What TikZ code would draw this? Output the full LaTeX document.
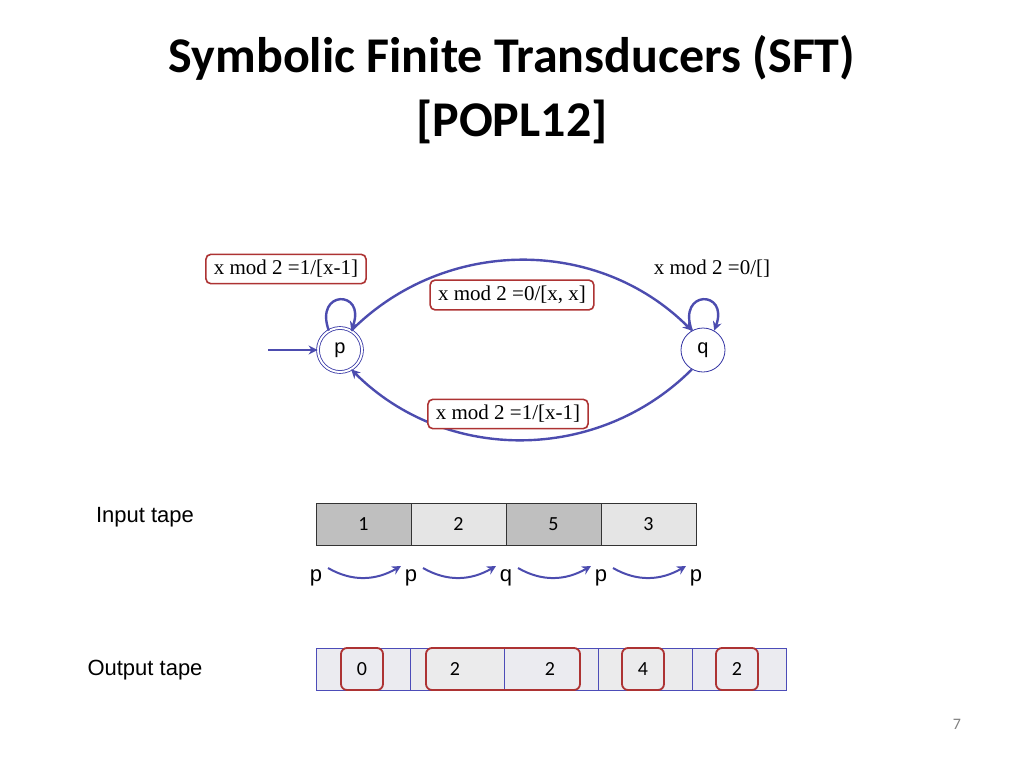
\documentclass[tikz,border=0pt]{standalone}
\usepackage{fontspec}
\setmainfont{Liberation Serif}
\newfontfamily\titlefont{Carlito}
\newfontfamily\labelfont{Liberation Sans}
\usetikzlibrary{positioning, arrows.meta}

\begin{document}
\begin{tikzpicture}[x=1pt, y=-1pt,
        state/.style={circle, draw=blue!55!black!80, thick, fill=white, minimum size=44pt, inner sep=0pt, font=\labelfont\fontsize{20}{22}\selectfont},
        guard/.style={rectangle, draw=red!60!black!80, line width=1.6pt, rounded corners=5pt, fill=white, font=\fontsize{21}{24}\selectfont, inner xsep=8pt, inner ysep=6pt},
        arrow/.style={-{Stealth[length=9pt, width=9pt]}, line width=2.4pt, draw=blue!55!black!70},
        cell/.style={rectangle, draw=black!80, minimum width=95pt, minimum height=42pt, inner sep=0pt, font=\titlefont\fontsize{20}{22}\selectfont},
        ocell/.style={rectangle, draw=blue!60!black!70, minimum width=94pt, minimum height=42pt, inner sep=0pt},
        outmark/.style={rectangle, draw=red!60!black!80, line width=1.8pt, rounded corners=6pt, minimum height=42pt, font=\titlefont\fontsize{20}{22}\selectfont},
        tag/.style={font=\labelfont\fontsize{22}{24}\selectfont}
    ]
    \useasboundingbox (0,0) rectangle (1024,768);

    % Title
    \node[font=\titlefont\bfseries\fontsize{50}{64}\selectfont, align=center] (title) at (512,90) {Symbolic Finite Transducers (SFT)\\{[POPL12]}};

    % States
    \node[state, double, double distance=2pt] (p) at (340,350) {p};
    \node[state] (q) at (703,350) {q};
    \coordinate (start) at (268,350);

    % Transitions
    \draw[arrow] (start) -- (p);
    \draw[arrow] (p.60) to[out=45, in=135, looseness=1] (q.120);
    \draw[arrow] (q.240) to[out=225, in=-45, looseness=1] (p.-60);
    \draw[arrow] (p.120) to[out=110, in=70, looseness=5] (p.60);
    \draw[arrow] (q.120) to[out=110, in=70, looseness=5] (q.60);

    % Guards
    \node[guard] (g1) at (286,269) {x mod 2 =1/[x-1]};
    \node[guard] (g2) at (512,295) {x mod 2 =0/[x, x]};
    \node[font=\fontsize{21}{24}\selectfont] (g3) at (712,269) {x mod 2 =0/[]};
    \node[guard] (g4) at (508,414) {x mod 2 =1/[x-1]};

    % Input tape
    \node[tag] (intag) at (145,517) {Input tape};
    \foreach \v [count=\i] in {1,2,5,3} {
        \pgfmathsetmacro\shade{mod(\i,2)==1 ? 25 : 10}
        \node[cell, fill=black!\shade] (in\i) at (316+95*\i-47.5,524) {\v};
    }

    % Run
    \foreach \s [count=\i] in {p,p,q,p,p}
        \node[tag] (r\i) at (316+95*\i-95,578) {\s};
    \foreach \i [evaluate=\i as \j using int(\i+1)] in {1,...,4}
        \draw[arrow, line width=2pt] ([xshift=12pt,yshift=10pt]r\i.center) to[out=-30, in=-150] ([xshift=-10pt,yshift=12pt]r\j.center);

    % Output tape
    \node[tag] (outtag) at (145,670) {Output tape};
    \foreach \i in {1,...,5} {
        \pgfmathsetmacro\shade{mod(\i,2)==1 ? 25 : 8}
        \node[ocell, fill=blue!\shade!black!8!white] (out\i) at (316+94*\i-47,669) {};
    }
    \node[outmark, minimum width=42pt] (o1) at (362,669) {0};
    \node[outmark, minimum width=154pt] (o2) at (503,669) {};
    \node[font=\titlefont\fontsize{20}{22}\selectfont] at (455,669) {2};
    \node[font=\titlefont\fontsize{20}{22}\selectfont] at (550,669) {2};
    \node[outmark, minimum width=42pt] (o3) at (643,669) {4};
    \node[outmark, minimum width=42pt] (o4) at (737,669) {2};

    % Page number
    \node[font=\titlefont\fontsize{16}{18}\selectfont, text=black!50] (page) at (957,724) {7};
\end{tikzpicture}
\end{document}
